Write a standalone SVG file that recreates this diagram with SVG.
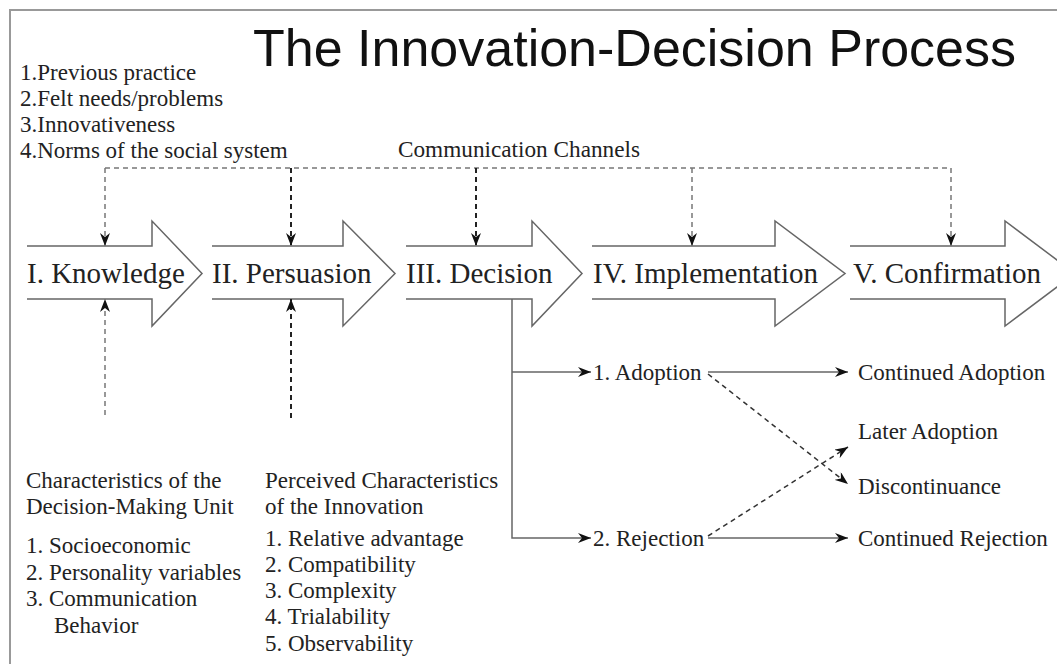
<svg xmlns="http://www.w3.org/2000/svg" width="1057" height="664" viewBox="0 0 1057 664">
<style>
.t{font-family:"Liberation Serif","Times New Roman",serif;font-size:23px;fill:#222}
.big{font-family:"Liberation Serif","Times New Roman",serif;font-size:29px;fill:#222}
.title{font-family:"Liberation Sans",Arial,sans-serif;font-size:52px;fill:#111}
.arrow{fill:#fff;stroke:#666;stroke-width:1.5}
.dg{fill:none;stroke:#777;stroke-width:1.5;stroke-dasharray:5,4}
.dk{fill:none;stroke:#222;stroke-width:2;stroke-dasharray:5,4}
.sl{fill:none;stroke:#666;stroke-width:1.5}
.sd{fill:none;stroke:#333;stroke-width:1.5;stroke-dasharray:5,4}
</style>
<defs>
<marker id="ah" markerUnits="userSpaceOnUse" markerWidth="14" markerHeight="10" refX="13" refY="5" orient="auto">
<path d="M0,0 L13,5 L0,10 L4,5 Z" fill="#111"/>
</marker>
</defs>
<rect width="1057" height="664" fill="#fff"/>
<path d="M10,664 V10 H1057" fill="none" stroke="#999" stroke-width="2"/>
<g id="title"><text class="title" x="253" y="66">The Innovation-Decision Process</text></g>
<g id="antecedents">
<text class="t" x="20" y="80">1.Previous practice</text>
<text class="t" x="20" y="106">2.Felt needs/problems</text>
<text class="t" x="20" y="132">3.Innovativeness</text>
<text class="t" x="20" y="158">4.Norms of the social system</text>
</g>
<g id="channels-label"><text class="t" x="398" y="157" textLength="242" lengthAdjust="spacingAndGlyphs">Communication Channels</text></g>
<g id="knowledge">
<path class="arrow" d="M27,246 H152 V221 L202,273.5 L152,326 V299 H27"/>
<text class="big" x="27" y="283">I. Knowledge</text>
</g>
<g id="persuasion">
<path class="arrow" d="M212,246 H343 V221 L395,273.5 L343,326 V299 H212"/>
<text class="big" x="212" y="283">II. Persuasion</text>
</g>
<g id="decision">
<path class="arrow" d="M406,246 H532 V221 L582,273.5 L532,326 V299 H406"/>
<text class="big" x="406" y="283">III. Decision</text>
</g>
<g id="implementation">
<path class="arrow" d="M592,246 H775 V221 L845,273.5 L775,326 V299 H592"/>
<text class="big" x="593" y="283">IV. Implementation</text>
</g>
<g id="confirmation">
<path class="arrow" d="M850,246 H1005 V221 L1075,273.5 L1005,326 V299 H850"/>
<text class="big" x="853" y="283">V. Confirmation</text>
</g>
<g id="dmu">
<text class="t" x="26" y="488">Characteristics of the</text>
<text class="t" x="26" y="514">Decision-Making Unit</text>
<text class="t" x="26" y="553">1. Socioeconomic</text>
<text class="t" x="26" y="580">2. Personality variables</text>
<text class="t" x="26" y="606">3. Communication</text>
<text class="t" x="54" y="633">Behavior</text>
</g>
<g id="perceived">
<text class="t" x="265" y="488">Perceived Characteristics</text>
<text class="t" x="265" y="514">of the Innovation</text>
<text class="t" x="265" y="546">1. Relative advantage</text>
<text class="t" x="265" y="572">2. Compatibility</text>
<text class="t" x="265" y="598">3. Complexity</text>
<text class="t" x="265" y="624">4. Trialability</text>
<text class="t" x="265" y="651">5. Observability</text>
</g>
<g id="outcomes">
<text class="t" x="593" y="380">1. Adoption</text>
<text class="t" x="593" y="546">2. Rejection</text>
<text class="t" x="858" y="380">Continued Adoption</text>
<text class="t" x="858" y="439">Later Adoption</text>
<text class="t" x="858" y="494">Discontinuance</text>
<text class="t" x="858" y="546">Continued Rejection</text>
</g>
<g id="connectors">
<path class="dg" d="M105,168 H951"/>
<path class="dg" d="M105,168 V246" marker-end="url(#ah)"/>
<path class="dg" d="M692,168 V246" marker-end="url(#ah)"/>
<path class="dg" d="M951,168 V246" marker-end="url(#ah)"/>
<path class="dk" d="M291,168 V246" marker-end="url(#ah)"/>
<path class="dk" d="M476,168 V246" marker-end="url(#ah)"/>
<path class="dg" d="M105,415 V299" marker-end="url(#ah)"/>
<path class="dk" d="M291,418 V299" marker-end="url(#ah)"/>
<path class="sl" d="M512,299 V538 H591" marker-end="url(#ah)"/>
<path class="sl" d="M512,372 H591" marker-end="url(#ah)"/>
<path class="sl" d="M708,372 H848" marker-end="url(#ah)"/>
<path class="sl" d="M708,538 H848" marker-end="url(#ah)"/>
<path class="sd" d="M708,374 L848,484" marker-end="url(#ah)"/>
<path class="sd" d="M708,536 L848,447" marker-end="url(#ah)"/>
</g>
</svg>
